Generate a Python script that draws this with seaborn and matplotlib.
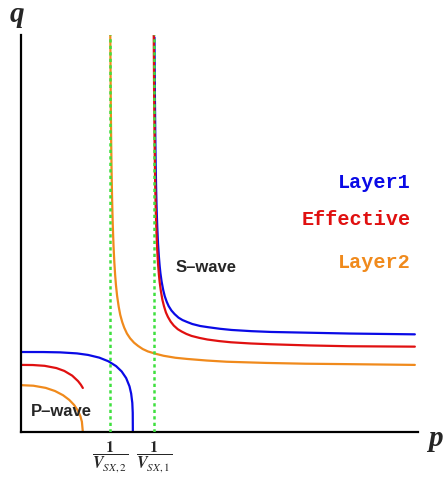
import numpy as np
import pandas as pd
import matplotlib
matplotlib.use("Agg")
import matplotlib.pyplot as plt
import seaborn as sns

# asymptote positions (1/V_SX,1 and 1/V_SX,2)
p_sx1 = 0.3376
p_sx2 = 0.2259

# S-wave branches
l1_s_p = [0.339, 0.340, 0.341, 0.342, 0.343, 0.344, 0.345, 0.346, 0.348, 0.350,
          0.352, 0.354, 0.357, 0.361, 0.365, 0.370, 0.375, 0.382, 0.390, 0.400,
          0.410, 0.422, 0.435, 0.455, 0.475, 0.505, 0.535, 0.585, 0.635, 0.735,
          0.835, 1.0]
l1_s_q = [0.994, 0.844, 0.744, 0.672, 0.618, 0.576, 0.543, 0.516, 0.474, 0.443,
          0.419, 0.400, 0.379, 0.358, 0.342, 0.328, 0.317, 0.306, 0.297, 0.288,
          0.282, 0.277, 0.272, 0.267, 0.264, 0.260, 0.257, 0.254, 0.252, 0.250,
          0.248, 0.246]
ef_s_p = [0.337, 0.338, 0.339, 0.340, 0.341, 0.342, 0.343, 0.344, 0.346, 0.348,
          0.350, 0.352, 0.355, 0.359, 0.363, 0.368, 0.373, 0.380, 0.388, 0.398,
          0.408, 0.420, 0.433, 0.453, 0.473, 0.503, 0.533, 0.583, 0.633, 0.733,
          0.833, 1.0]
ef_s_q = [1.010, 0.850, 0.743, 0.667, 0.610, 0.566, 0.530, 0.501, 0.456, 0.423,
          0.398, 0.378, 0.356, 0.333, 0.317, 0.301, 0.290, 0.278, 0.268, 0.259,
          0.253, 0.247, 0.242, 0.237, 0.233, 0.229, 0.226, 0.223, 0.221, 0.218,
          0.216, 0.215]
l2_s_p = [0.2267, 0.228, 0.229, 0.230, 0.231, 0.232, 0.233, 0.235, 0.237, 0.239,
          0.241, 0.244, 0.248, 0.252, 0.257, 0.262, 0.269, 0.277, 0.287, 0.297,
          0.309, 0.322, 0.342, 0.362, 0.392, 0.422, 0.472, 0.522, 0.622, 0.722,
          0.822, 1.0]
l2_s_q = [1.002, 0.821, 0.727, 0.657, 0.602, 0.558, 0.522, 0.467, 0.427, 0.396,
          0.371, 0.343, 0.316, 0.295, 0.277, 0.263, 0.248, 0.236, 0.225, 0.217,
          0.209, 0.203, 0.197, 0.192, 0.187, 0.184, 0.180, 0.177, 0.174, 0.172,
          0.171, 0.169]

# P-wave branches
l1_p_p = [0.0, 0.0568, 0.0994, 0.142, 0.1704, 0.1988, 0.2215, 0.2414, 0.2556,
          0.2670, 0.2755, 0.2797, 0.2826, 0.2837, 0.284]
l1_p_q = [0.2015, 0.2014, 0.2006, 0.1980, 0.1941, 0.1873, 0.1783, 0.1660, 0.1525,
          0.1358, 0.1149, 0.0968, 0.0733, 0.0486, 0.0]
ef_p_p = [0.0, 0.03, 0.06, 0.09, 0.11, 0.13, 0.145, 0.152, 0.157]
ef_p_q = [0.169, 0.1687, 0.1667, 0.1610, 0.1538, 0.1420, 0.1280, 0.119, 0.1109]
l2_p_p = [0.0, 0.0314, 0.0628, 0.0864, 0.1068, 0.1225, 0.1350, 0.1444, 0.1507,
          0.1546, 0.157]
l2_p_q = [0.118, 0.1166, 0.1111, 0.1032, 0.0926, 0.0809, 0.0679, 0.0538, 0.0400,
          0.0260, 0.0]

c_l1 = "#0a0ae6"
c_ef = "#e01010"
c_l2 = "#f08a1c"
c_green = "#3ee03e"

sns.set_style("white")
plt.rcParams["mathtext.fontset"] = "stix"

fig = plt.figure(figsize=(4.48, 4.8), dpi=100)
ax = fig.add_axes([21 / 448, 48 / 480, 397 / 448, 397 / 480])

curvas = [
    (l1_s_p, l1_s_q, c_l1), (ef_s_p, ef_s_q, c_ef), (l2_s_p, l2_s_q, c_l2),
    (l1_p_p, l1_p_q, c_l1), (ef_p_p, ef_p_q, c_ef), (l2_p_p, l2_p_q, c_l2),
]
for pp, qq, col in curvas:
    d = pd.DataFrame({"p": pp, "q": qq})
    sns.lineplot(data=d, x="p", y="q", sort=False, estimator=None,
                 color=col, lw=1.6, ax=ax)

for xv in [p_sx2, p_sx1]:
    ax.axvline(xv, color=c_green, lw=1.8, ls=(0, (1.3, 1.3)), zorder=5)

ax.set_xlim(0, 1.008)
ax.set_ylim(0, 1.0)
ax.set_xlabel("")
ax.set_ylabel("")
ax.set_yticks([])
ax.set_xticks([p_sx2, p_sx1])
ax.set_xticklabels([r"$\dfrac{\mathbf{1}}{\boldsymbol{V}_{SX,2}}$",
                    r"$\dfrac{\mathbf{1}}{\boldsymbol{V}_{SX,1}}$"],
                   fontsize=11.5)
ax.tick_params(axis="x", length=0, pad=5)
for s in ["top", "right"]:
    ax.spines[s].set_visible(False)
for s in ["left", "bottom"]:
    ax.spines[s].set_color("black")
    ax.spines[s].set_linewidth(1.6)

fig.text(17 / 448, 1 - 15 / 480, "q", fontsize=21, family="Liberation Serif",
         weight="bold", style="italic", ha="center", va="center")
fig.text(435 / 448, 1 - 438 / 480, "p", fontsize=21, family="Liberation Serif",
         weight="bold", style="italic", ha="center", va="center")

fig.text(411 / 448, 1 - 182 / 480, "Layer1", color=c_l1, fontsize=14.5,
         family="Liberation Mono", weight="bold", ha="right", va="center")
fig.text(411 / 448, 1 - 220 / 480, "Effective", color=c_ef, fontsize=14.5,
         family="Liberation Mono", weight="bold", ha="right", va="center")
fig.text(411 / 448, 1 - 262 / 480, "Layer2", color=c_l2, fontsize=14.5,
         family="Liberation Mono", weight="bold", ha="right", va="center")

fig.text(206 / 448, 1 - 267 / 480, "S\u2013wave", fontsize=12,
         family="Liberation Sans", weight="bold", ha="center", va="center")
fig.text(61 / 448, 1 - 412 / 480, "P\u2013wave", fontsize=12,
         family="Liberation Sans", weight="bold", ha="center", va="center")

fig.savefig("out.png", dpi=100)
